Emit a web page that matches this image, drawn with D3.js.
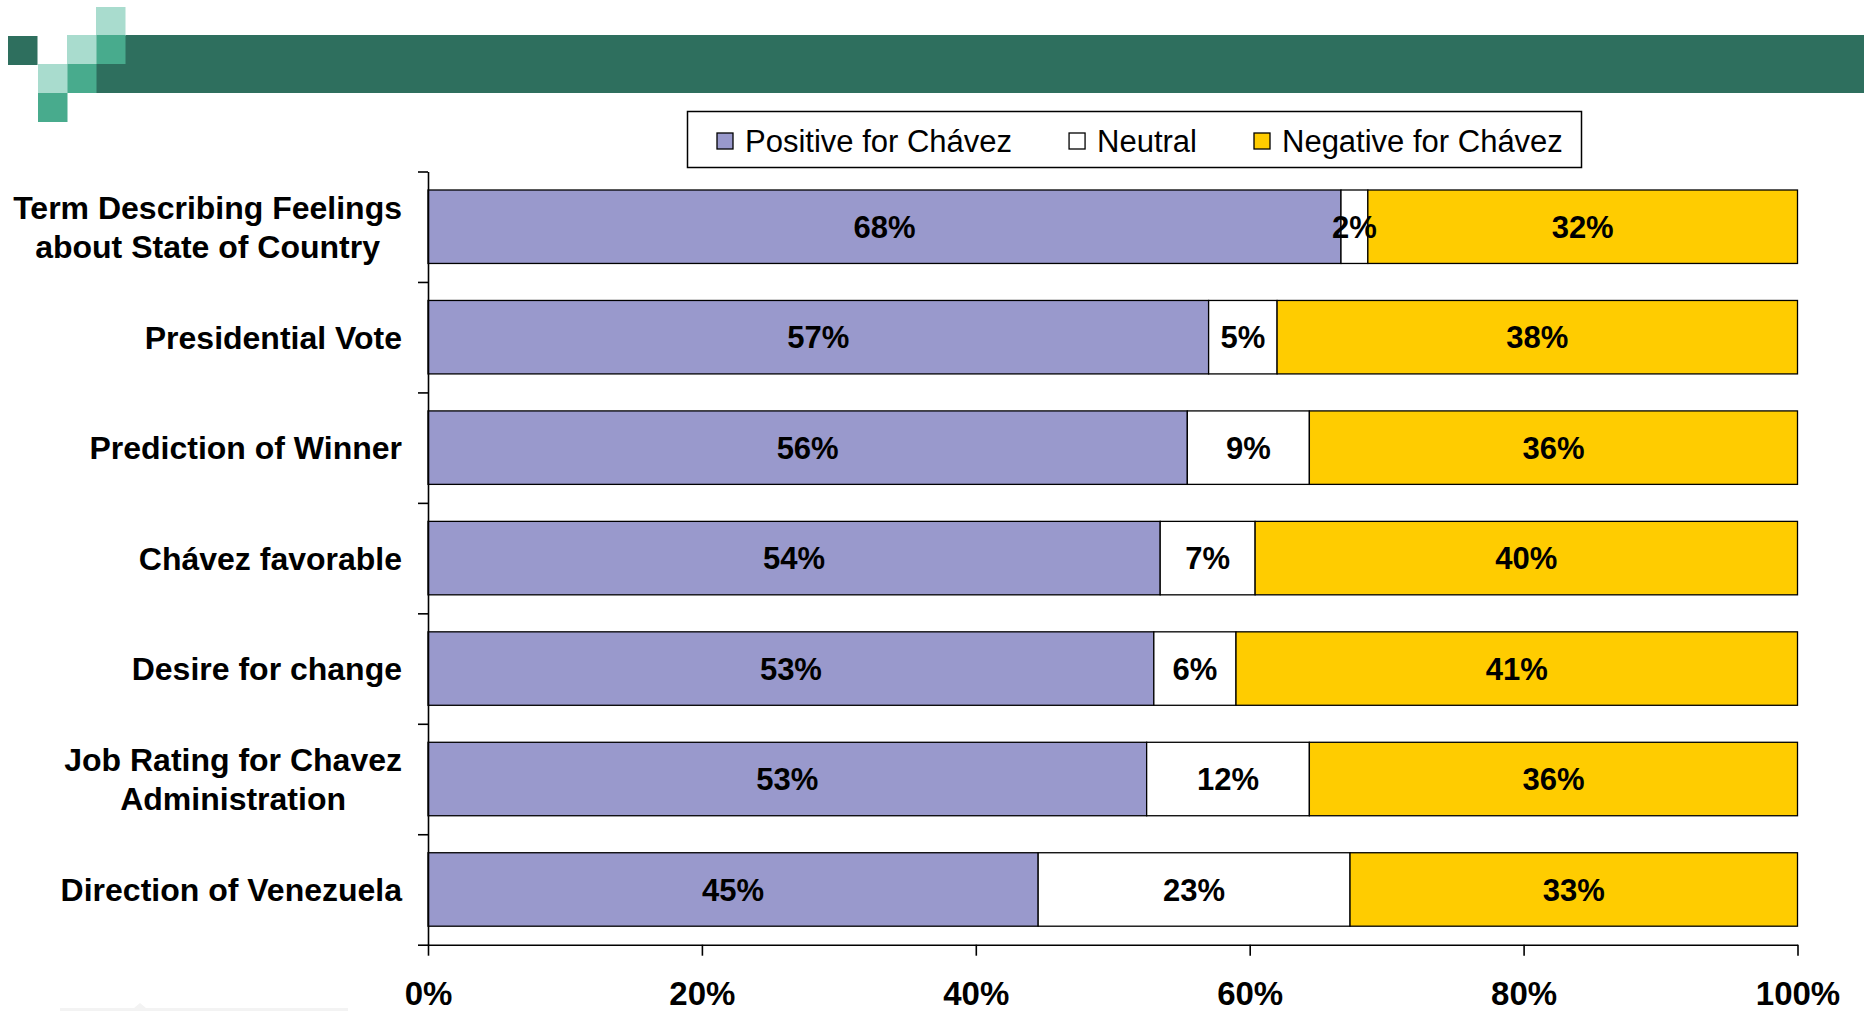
<!DOCTYPE html>
<html>
<head>
<meta charset="utf-8">
<script src="https://cdn.jsdelivr.net/npm/d3@7"></script>
<style>
  html, body { margin: 0; padding: 0; background: #fff; }
  svg { display: block; font-family: Arial, "Liberation Sans", Helvetica, sans-serif; }
</style>
</head>
<body>
<svg id="chart" width="1864" height="1011"></svg>
<script>
// chart values
const categories = [
  "Term Describing Feelings\nabout State of Country",
  "Presidential Vote",
  "Prediction of Winner",
  "Chávez favorable",
  "Desire for change",
  "Job Rating for Chavez\nAdministration",
  "Direction of Venezuela"
];
const seriesNames = ["Positive for Chávez", "Neutral", "Negative for Chávez"];
const positive = [68, 57, 56, 54, 53, 53, 45];
const neutral  = [2, 5, 9, 7, 6, 12, 23];
const negative = [32, 38, 36, 40, 41, 36, 33];
const xTickValues = [0, 0.2, 0.4, 0.6, 0.8, 1];

const colors = ["#9999CC", "#FFFFFF", "#FFCC00"];

const svg = d3.select("#chart");
const width = 1864;

// header band with the little squares
const deco = svg.append("g");
deco.append("rect").attr("x", 96).attr("y", 35).attr("width", width - 96).attr("height", 58).attr("fill", "#2E6F5E");
const squares = [
  [8, 36, "#2E6F5E"],
  [96, 7, "#A9DCCE"],
  [96, 35, "#48AB8D"],
  [67, 35, "#A9DCCE"],
  [67, 64, "#48AB8D"],
  [38, 64, "#A9DCCE"],
  [38, 93, "#48AB8D"]
];
deco.selectAll("rect.sq")
  .data(squares)
  .join("rect")
  .attr("class", "sq")
  .attr("x", d => d[0])
  .attr("y", d => d[1])
  .attr("width", 29.5)
  .attr("height", 29)
  .attr("fill", d => d[2]);

// faint shape at the bottom left
svg.append("path")
  .attr("d", "M60,1008 L134,1008 L140,1003 L146,1008 L348,1008 L348,1011 L60,1011 Z")
  .attr("fill", "#f3f3f3");

const margin = { left: 428, right: 1797.5, top: 171.5, bottom: 944.7 };

const rows = categories.map((c, i) => ({
  cat: c,
  [seriesNames[0]]: positive[i],
  [seriesNames[1]]: neutral[i],
  [seriesNames[2]]: negative[i]
}));

const stacked = d3.stack()
  .keys(seriesNames)
  .offset(d3.stackOffsetExpand)(rows);

const x = d3.scaleLinear().domain([0, 1]).range([margin.left, margin.right]);
const y = d3.scaleBand()
  .domain(categories)
  .range([margin.top, margin.bottom])
  .paddingInner(0.335)
  .paddingOuter(0.335 / 2);

// bars
const layers = svg.append("g")
  .selectAll("g")
  .data(stacked)
  .join("g")
  .attr("fill", (d, i) => colors[i]);

layers.selectAll("rect")
  .data(d => d.map(v => ({ v, key: d.key })))
  .join("rect")
  .attr("x", d => x(d.v[0]))
  .attr("y", d => y(d.v.data.cat))
  .attr("width", d => x(d.v[1]) - x(d.v[0]))
  .attr("height", y.bandwidth())
  .attr("stroke", "#000")
  .attr("stroke-width", 1.3);

// value labels, drawn over all bars
const segs = stacked.flatMap(s => s.map(v => ({ v, key: s.key })));
svg.append("g")
  .selectAll("text")
  .data(segs)
  .join("text")
  .attr("x", d => (x(d.v[0]) + x(d.v[1])) / 2)
  .attr("y", d => y(d.v.data.cat) + y.bandwidth() / 2)
  .attr("dy", "0.36em")
  .attr("text-anchor", "middle")
  .attr("fill", "#000")
  .attr("font-weight", "bold")
  .attr("font-size", 31)
  .text(d => d.v.data[d.key] + "%");

// x axis
const xAxis = svg.append("g")
  .attr("transform", `translate(0,${margin.bottom})`)
  .call(d3.axisBottom(x).tickValues(xTickValues).tickFormat(d3.format(".0%")).tickSize(11).tickSizeOuter(0));
xAxis.select(".domain").attr("stroke-width", 1.6);
xAxis.selectAll(".tick line").attr("stroke-width", 1.6);
xAxis.selectAll(".tick text")
  .attr("y", 60)
  .attr("dy", 0)
  .attr("font-size", 33)
  .attr("font-weight", "bold")
  .attr("font-family", "Arial, 'Liberation Sans', sans-serif")
  .attr("fill", "#000");

// y axis: ticks at band boundaries
const yEdge = d3.scaleLinear().domain([0, categories.length]).range([margin.top, margin.bottom]);
const yAxis = svg.append("g")
  .attr("transform", `translate(${margin.left},0)`)
  .call(d3.axisLeft(yEdge).tickValues(d3.range(categories.length + 1)).tickFormat("").tickSize(10).tickSizeOuter(0));
yAxis.select(".domain").attr("stroke-width", 1.6);
yAxis.selectAll(".tick line").attr("stroke-width", 1.6);

// category labels
const labelRight = 402;
const catLabels = svg.append("g")
  .selectAll("text")
  .data(categories)
  .join("text")
  .attr("font-size", 32)
  .attr("font-weight", "bold")
  .attr("fill", "#000");

catLabels.each(function (c) {
  const lines = c.split("\n");
  const t = d3.select(this);
  const cy = y(c) + y.bandwidth() / 2;
  const lh = 39;
  lines.forEach((ln, i) => {
    t.append("tspan")
      .attr("y", cy + (i - (lines.length - 1) / 2) * lh)
      .attr("dy", "0.36em")
      .text(ln);
  });
  if (lines.length === 1) {
    t.attr("text-anchor", "end").selectAll("tspan").attr("x", labelRight);
  } else {
    const spans = t.selectAll("tspan").nodes();
    const maxW = d3.max(spans, s => s.getComputedTextLength());
    t.attr("text-anchor", "middle").selectAll("tspan").attr("x", labelRight - maxW / 2);
  }
});

// legend
const legend = svg.append("g");
legend.append("rect")
  .attr("x", 687.5).attr("y", 111.5)
  .attr("width", 894).attr("height", 56)
  .attr("fill", "#fff")
  .attr("stroke", "#000")
  .attr("stroke-width", 1.5);

let lx = 717;
const lyc = 141;
seriesNames.forEach((name, i) => {
  legend.append("rect")
    .attr("x", lx).attr("y", lyc - 8)
    .attr("width", 16).attr("height", 16)
    .attr("fill", colors[i])
    .attr("stroke", "#000")
    .attr("stroke-width", 1.3);
  const t = legend.append("text")
    .attr("x", lx + 28)
    .attr("y", lyc)
    .attr("dy", "0.36em")
    .attr("font-size", 31)
    .attr("fill", "#000")
    .text(name);
  lx += 28 + t.node().getComputedTextLength() + 57;
});
</script>
</body>
</html>
